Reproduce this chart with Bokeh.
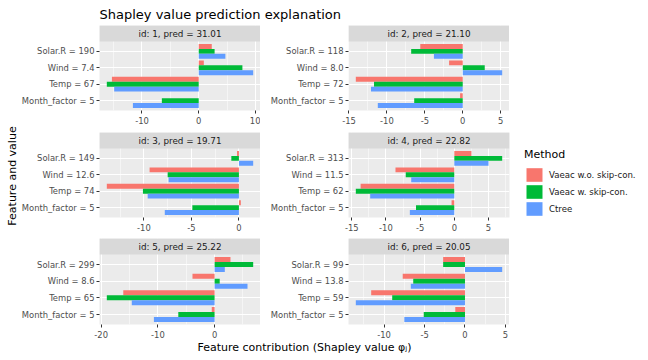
import numpy as np
from bokeh.plotting import figure
from bokeh.models import Range1d, FixedTicker, Legend, LegendItem, ColumnDataSource
from bokeh.layouts import row, column
from bokeh.embed import file_html
from bokeh.resources import INLINE
from bokeh.core.properties import value

# ---------------- data ----------------
FEATURES = ["Solar.R", "Wind", "Temp", "Month_factor"]
IDS = [1, 2, 3, 4, 5, 6]
PREDS = [31.01, 21.10, 19.71, 22.82, 25.22, 20.05]
FEATURE_VALUES = [
    ["190", "7.4", "67", "5"],
    ["118", "8.0", "72", "5"],
    ["149", "12.6", "74", "5"],
    ["313", "11.5", "62", "5"],
    ["299", "8.6", "65", "5"],
    ["99", "13.8", "59", "5"],
]
METHODS = ["Vaeac w.o. skip-con.", "Vaeac w. skip-con.", "Ctree"]
COLORS = ["#F8766D", "#00BA38", "#619CFF"]
# Shapley values, order: Solar.R, Wind, Temp, Month_factor
PHI_VAEAC_WO = [
    [2.3, 0.9, -15.3, 0.0],
    [-5.6, -1.8, -14.1, -0.35],
    [-0.2, -9.4, -13.9, 0.2],
    [2.5, -8.6, -13.7, -0.4],
    [2.8, -3.9, -16.1, -0.5],
    [-2.7, -7.7, -11.6, -1.2],
]
PHI_VAEAC_W = [
    [2.8, 7.7, -16.2, -6.5],
    [-6.8, 2.9, -11.7, -6.4],
    [-0.8, -7.5, -10.1, -4.9],
    [7.0, -7.1, -14.4, -5.6],
    [6.8, 0.9, -19.0, -6.4],
    [-2.7, -6.4, -9.0, -5.1],
]
PHI_CTREE = [
    [4.7, 9.6, -14.9, -11.6],
    [-3.8, 5.2, -12.1, -11.2],
    [1.5, -7.4, -9.6, -7.8],
    [5.0, -6.3, -12.3, -6.5],
    [1.8, 5.8, -14.6, -10.7],
    [4.6, -6.7, -13.5, -7.5],
]
X_TICKS = [
    [-10, 0, 10],
    [-15, -10, -5, 0, 5],
    [-10, -5, 0],
    [-15, -10, -5, 0, 5],
    [-20, -10, 0],
    [-10, -5, 0, 5],
]
TITLE = "Shapley value prediction explanation"
X_LABEL = "Feature contribution (Shapley value \u03c6\u2c7c)"
Y_LABEL = "Feature and value"
LEGEND_TITLE = "Method"

# ---------------- style ----------------
FONT = "DejaVu Sans"
PANEL_BG = "#EBEBEB"
STRIP_BG = "#D9D9D9"
FRAME_W = 161
STRIP_PX = 16
PLOT_PX = [69, 69, 70]
TICK_FONT = "8.4px"
CAT_POS = [4, 3, 2, 1]
OFFSETS = [0.3, 0.0, -0.3]
BAR_H = 0.3
YLAB_W = 17
LEFT_BORDER = 82
MID_GAP = 88
TITLE_H = 25
BOTTOM_BORDERS = [22, 21, 15]
XLAB_H = 14


def blank(w, h, xr, yr, **extra):
    f = figure(frame_width=w, frame_height=h, min_border_left=0, min_border_right=0,
               min_border_top=0, min_border_bottom=0,
               x_range=Range1d(*xr), y_range=Range1d(*yr),
               x_axis_type=None, y_axis_type=None, title=None,
               output_backend="svg", toolbar_location=None,
               outline_line_color=None, **extra)
    f.grid.visible = False
    return f


panels = []
for k in range(6):
    series = [PHI_VAEAC_WO[k], PHI_VAEAC_W[k], PHI_CTREE[k]]
    allv = [v for s in series for v in s] + [0.0]
    lo, hi = min(allv), max(allv)
    pad = 0.05 * (hi - lo)
    x0, x1 = lo - pad, hi + pad
    r_i = k // 2
    strip_units = 4.2 * STRIP_PX / PLOT_PX[r_i]
    y0, y1 = 0.4, 4.6 + strip_units
    left_col = (k % 2 == 0)
    p = figure(
        frame_width=FRAME_W, frame_height=STRIP_PX + PLOT_PX[r_i],
        x_range=Range1d(x0, x1), y_range=Range1d(y0, y1),
        output_backend="svg", toolbar_location=None, title=None,
        min_border_left=LEFT_BORDER if left_col else MID_GAP,
        min_border_right=(128 if k == 3 else 0),
        min_border_top=0,
        min_border_bottom=BOTTOM_BORDERS[r_i],
        background_fill_color=PANEL_BG, border_fill_color="white",
        outline_line_color=None,
    )

    majors = X_TICKS[k]
    step = majors[1] - majors[0]
    cand = [majors[0] - step / 2] + [m + step / 2 for m in majors]
    minors = [m for m in cand if x0 <= m <= x1]
    p.xaxis.ticker = FixedTicker(ticks=majors, minor_ticks=minors)
    p.xaxis.major_label_overrides = {m: str(m) for m in majors}
    p.yaxis.ticker = FixedTicker(ticks=CAT_POS)
    p.yaxis.major_label_overrides = {
        CAT_POS[i]: f"{FEATURES[i]} = {FEATURE_VALUES[k][i]}" for i in range(4)
    }
    for ax in (p.xaxis[0], p.yaxis[0]):
        ax.axis_line_color = None
        ax.major_tick_line_color = "#333333"
        ax.major_tick_out = 3
        ax.major_tick_in = 0
        ax.minor_tick_line_color = None
        ax.major_label_text_font = FONT
        ax.major_label_text_font_size = TICK_FONT
        ax.major_label_text_color = "#4D4D4D"
        ax.major_label_standoff = 2
    p.xgrid.grid_line_color = "white"
    p.xgrid.grid_line_width = 1.1
    p.xgrid.minor_grid_line_color = "white"
    p.xgrid.minor_grid_line_width = 0.5
    p.ygrid.grid_line_color = "white"
    p.ygrid.grid_line_width = 1.1

    renderers = []
    for j in range(3):
        src = ColumnDataSource(dict(
            y=[CAT_POS[i] + OFFSETS[j] for i in range(4)],
            right=series[j],
        ))
        r = p.hbar(y="y", left=0, right="right", height=BAR_H, source=src,
                   fill_color=COLORS[j], line_color=None)
        renderers.append(r)

    # facet strip
    p.quad(left=[x0], right=[x1], bottom=[4.6], top=[y1],
           fill_color=STRIP_BG, line_color=None)
    p.text(x=[(x0 + x1) / 2], y=[4.6 + strip_units / 2],
           text=[f"id: {IDS[k]}, pred = {PREDS[k]:.2f}"],
           text_align="center", text_baseline="middle",
           text_font=value(FONT), text_font_size="8.8px", text_color="#1A1A1A")

    if k == 3:
        legend = Legend(
            items=[LegendItem(label=METHODS[j], renderers=[renderers[j]]) for j in range(3)],
            location=(15, 0), title=LEGEND_TITLE,
            title_text_font=FONT, title_text_font_size="11px",
            title_text_font_style="normal", title_text_color="black",
            title_standoff=5,
            label_text_font=FONT, label_text_font_size="8.6px",
            label_text_color="#1A1A1A", label_standoff=5,
            glyph_width=20, glyph_height=17, label_height=17,
            spacing=0, padding=0, margin=0,
            border_line_color=None, background_fill_alpha=0,
        )
        p.add_layout(legend, "right")
    panels.append(p)

# title
FULL_W = 640
title_fig = blank(FULL_W, TITLE_H, (0, FULL_W), (0, TITLE_H))
title_fig.text(x=[YLAB_W + LEFT_BORDER], y=[TITLE_H - 14], text=[TITLE],
               text_align="left", text_baseline="alphabetic",
               text_font=value(FONT), text_font_size="13px", text_color="black")

# x axis title (centred on the panel columns)
xw = FRAME_W * 2 + MID_GAP
xlab = blank(xw, XLAB_H, (0, 1), (0, 1))
xlab.min_border_left = LEFT_BORDER
xlab.text(x=[0.5], y=[0.5], text=[X_LABEL], text_align="center", text_baseline="middle",
          text_font=value(FONT), text_font_size="11px", text_color="black")

# y axis title
body_h = sum(STRIP_PX + PLOT_PX[i] + BOTTOM_BORDERS[i] for i in range(3)) + XLAB_H
ylab = blank(YLAB_W, body_h, (0, YLAB_W), (0, body_h))
ylab.text(x=[11.5], y=[body_h - (175.5 - TITLE_H)], text=[Y_LABEL], angle=np.pi / 2,
          text_align="center", text_baseline="middle",
          text_font=value(FONT), text_font_size="11px", text_color="black")

grid = column(row(panels[0], panels[1]), row(panels[2], panels[3]),
              row(panels[4], panels[5]), xlab)
layout = column(title_fig, row(ylab, grid))

open("out.html", "w").write(file_html(layout, INLINE))
